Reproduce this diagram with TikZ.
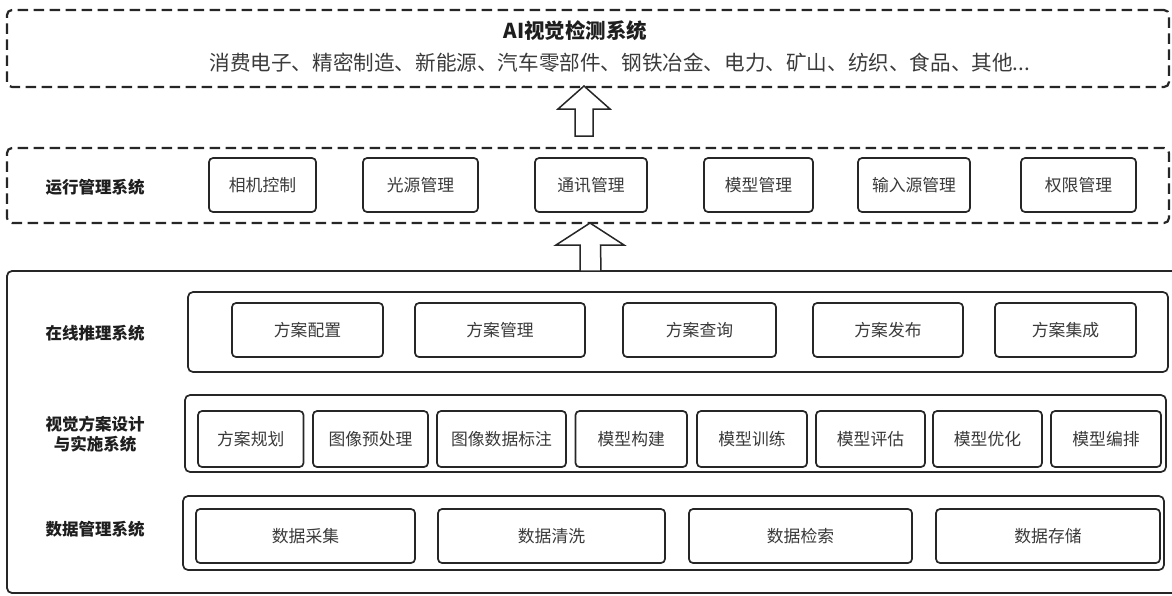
\documentclass[tikz,border=0pt]{standalone}
\usepackage{fontspec}
\setmainfont{Noto Sans CJK SC}
\definecolor{linec}{HTML}{262626}
\definecolor{textc}{HTML}{3A3A3A}
\definecolor{labc}{HTML}{1E1E1E}
\begin{document}
\begin{tikzpicture}[x=1pt,y=-1pt,
  item/.style={draw=linec, line width=1.7pt, rounded corners=4pt, fill=white,
    inner sep=0pt, font=\fontsize{16.8}{18}\selectfont, text=textc, anchor=center},
  group/.style={draw=linec, line width=1.7pt, rounded corners=5pt, inner sep=0pt, anchor=center},
  dashbox/.style={draw=linec, line width=2.2pt, dash pattern=on 10.5pt off 5.5pt, rounded corners=5pt, inner sep=0pt, anchor=center},
  lab/.style={font=\fontsize{16.5}{20}\selectfont\bfseries, text=labc, align=center, anchor=center},
  blockarrow/.style={draw=linec, line width=1.5pt, fill=white, line join=miter}
]
\useasboundingbox (0,0) rectangle (1172,595);

% top dashed box
\node[dashbox, minimum width=1162pt, minimum height=77pt] (top) at (588,48.5) {};
\node[font=\fontsize{20.5}{24}\selectfont\bfseries, text=labc, anchor=west] (title) at (500,31) {AI视觉检测系统};
\node[font=\fontsize{20.6}{24}\selectfont, text=textc, anchor=west] (sub) at (206,63) {消费电子、精密制造、新能源、汽车零部件、钢铁冶金、电力、矿山、纺织、食品、其他...};

% running management
\node[dashbox, minimum width=1162pt, minimum height=75pt] (run) at (588,185.5) {};
\node[lab] (runlab) at (95,187) {运行管理系统};
\node[item, minimum width=107pt, minimum height=54pt] (r1) at (262.5,185) {相机控制};
\node[item, minimum width=115pt, minimum height=54pt] (r2) at (420.5,185) {光源管理};
\node[item, minimum width=112pt, minimum height=54pt] (r3) at (591,185) {通讯管理};
\node[item, minimum width=109pt, minimum height=54pt] (r4) at (758.5,185) {模型管理};
\node[item, minimum width=112pt, minimum height=54pt] (r5) at (914,185) {输入源管理};
\node[item, minimum width=115pt, minimum height=54pt] (r6) at (1078.5,185) {权限管理};

% outer solid box
\draw[draw=linec, line width=1.8pt, rounded corners=5pt] (7,593) rectangle (1180,271);
\coordinate (outertop) at (590,271);

% block arrows
\coordinate (t1) at (584,86);
\draw[blockarrow] (t1) -- ++(26,23) -- ++(-17,0) -- ++(0,27) -- ++(-18,0) -- ++(0,-27) -- ++(-17,0) -- cycle;
\coordinate (t2) at (590,223);
\draw[blockarrow] (t2) -- ++(34,22) -- ++(-23.5,0) -- (outertop -| 601,0) -- (outertop -| 580,0) -- (580,245) -- ++(-24,0) -- cycle;

% online inference
\node[lab] (infl) at (95,333) {在线推理系统};
\node[group, minimum width=980pt, minimum height=80pt] (inf) at (678,332) {};
\node[item, minimum width=151pt, minimum height=54pt] (i1) at (307.5,330) {方案配置};
\node[item, minimum width=170pt, minimum height=54pt] (i2) at (500,330) {方案管理};
\node[item, minimum width=153pt, minimum height=54pt] (i3) at (699.5,330) {方案查询};
\node[item, minimum width=150pt, minimum height=54pt] (i4) at (888,330) {方案发布};
\node[item, minimum width=141pt, minimum height=54pt] (i5) at (1065.5,330) {方案集成};

% vision design
\node[lab, font=\fontsize{16.5}{19.5}\selectfont\bfseries] (visl) at (95,434) {视觉方案设计\\与实施系统};
\node[group, minimum width=981pt, minimum height=77pt] (vis) at (675.5,433.5) {};
\node[item, minimum width=105.5pt, minimum height=56pt] (v1) at (250.75,439) {方案规划};
\node[item, minimum width=115pt, minimum height=56pt] (v2) at (370.5,439) {图像预处理};
\node[item, minimum width=129pt, minimum height=56pt] (v3) at (501.5,439) {图像数据标注};
\node[item, minimum width=111.5pt, minimum height=56pt] (v4) at (631.25,439) {模型构建};
\node[item, minimum width=110pt, minimum height=56pt] (v5) at (752,439) {模型训练};
\node[item, minimum width=109pt, minimum height=56pt] (v6) at (870.5,439) {模型评估};
\node[item, minimum width=109pt, minimum height=56pt] (v7) at (987.5,439) {模型优化};
\node[item, minimum width=110pt, minimum height=56pt] (v8) at (1106,439) {模型编排};

% data management
\node[lab] (datl) at (95,529) {数据管理系统};
\node[group, minimum width=981pt, minimum height=74pt] (dat) at (673.5,533) {};
\node[item, minimum width=219pt, minimum height=54pt] (d1) at (305.5,536) {数据采集};
\node[item, minimum width=227pt, minimum height=54pt] (d2) at (551.5,536) {数据清洗};
\node[item, minimum width=223pt, minimum height=54pt] (d3) at (800.5,536) {数据检索};
\node[item, minimum width=224pt, minimum height=54pt] (d4) at (1048,536) {数据存储};
\end{tikzpicture}
\end{document}
